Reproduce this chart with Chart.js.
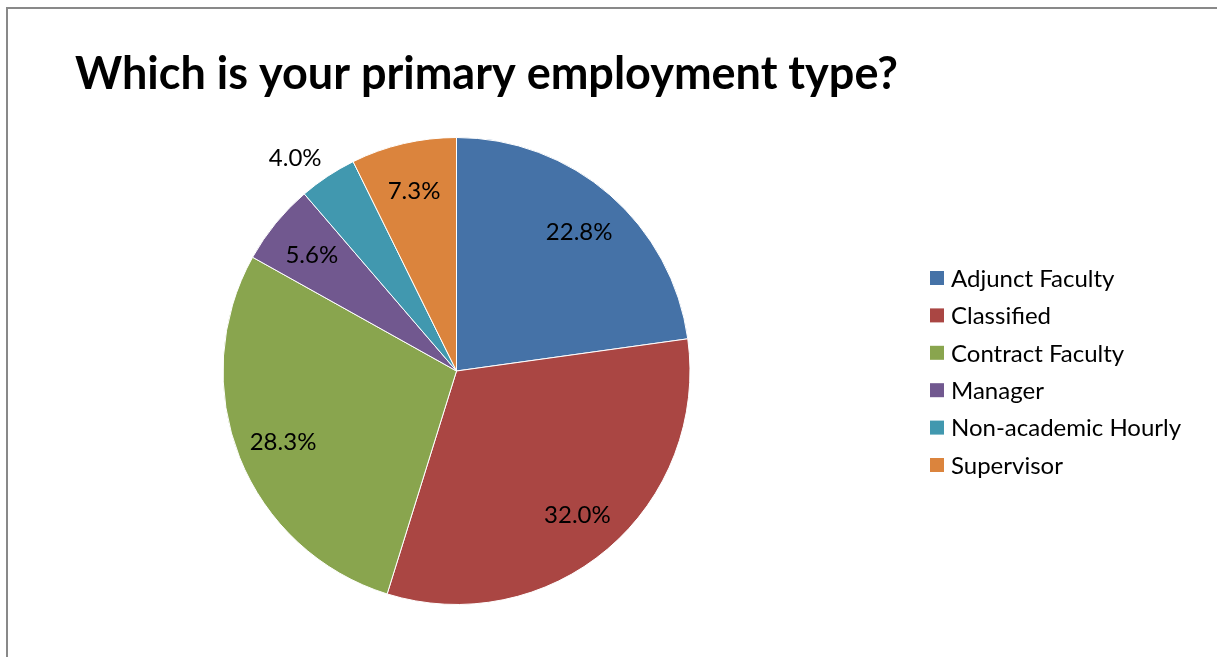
<!DOCTYPE html>
<html>
<head>
<meta charset="utf-8">
<script src="https://cdn.jsdelivr.net/npm/chart.js@4.4.1/dist/chart.umd.min.js"></script>
<style>
  html, body { margin: 0; padding: 0; background: #fff; overflow: hidden; }
  #wrap { position: relative; width: 1217px; height: 657px; }
  #frame { position: absolute; left: 6px; top: 7px; width: 1240px; height: 700px; border: 2px solid #898989; box-sizing: border-box; }
  #myChart { position: absolute; left: 0; top: 0; }
</style>
</head>
<body>
<div id="wrap">
  <div id="frame"></div>
  <canvas id="myChart" width="1217" height="657"></canvas>
</div>
<script>
var title = "Which is your primary employment type?";
var labels = ["Adjunct Faculty", "Classified", "Contract Faculty", "Manager", "Non-academic Hourly", "Supervisor"];
var percents = [22.8, 32.0, 28.3, 5.6, 4.0, 7.3];
var colors = ["#4572A7", "#AA4643", "#89A54E", "#71588F", "#4198AF", "#DB843D"];

var fontFamily = "Lato, 'Open Sans', sans-serif";

// title, percentage labels and the legend are painted here
var textPlugin = {
    id: "textPlugin",
    afterDraw: function(chart){
        var ctx = chart.ctx;
        ctx.save();
        ctx.fillStyle = "#000";

        ctx.font = "bold 45px " + fontFamily;
        ctx.textAlign = "left";
        ctx.textBaseline = "middle";
        ctx.fillText(title, 75, 74);

        ctx.font = "24px " + fontFamily;
        ctx.textAlign = "center";
        var arcs = chart.getDatasetMeta(0).data;
        arcs.forEach(function(arc, i){
            var p = arc.getProps(["x", "y", "startAngle", "endAngle", "outerRadius"], true);
            var mid = (p.startAngle + p.endAngle) / 2;
            var d = percents[i] < 5 ? p.outerRadius * 1.15 : p.outerRadius * 0.8;
            if(percents[i] < 5) mid -= 0.06;
            ctx.fillText(percents[i].toFixed(1) + "%", p.x + Math.cos(mid) * d, p.y + Math.sin(mid) * d + 2);
        });

        ctx.font = "24px " + fontFamily;
        ctx.textAlign = "left";
        for(var i = 0; i < labels.length; i++){
            var y = 278 + i * 37.4;
            ctx.fillStyle = colors[i];
            ctx.fillRect(930, y - 7, 14, 14);
            ctx.fillStyle = "#000";
            ctx.fillText(labels[i], 951, y + 1);
        }
        ctx.restore();
    }
};

var canvas = document.getElementById("myChart");
var myChart = new Chart(canvas, {
    type: "pie",
    data: {
        labels: labels,
        datasets: [{
            data: percents,
            backgroundColor: colors,
            borderColor: "#ffffff",
            borderWidth: 1
        }]
    },
    options: {
        responsive: false,
        animation: false,
        layout: { padding: { top: 137, bottom: 52, left: 222, right: 526 } },
        plugins: {
            legend: { display: false },
            tooltip: { enabled: false }
        }
    },
    plugins: [textPlugin]
});
</script>
</body>
</html>
